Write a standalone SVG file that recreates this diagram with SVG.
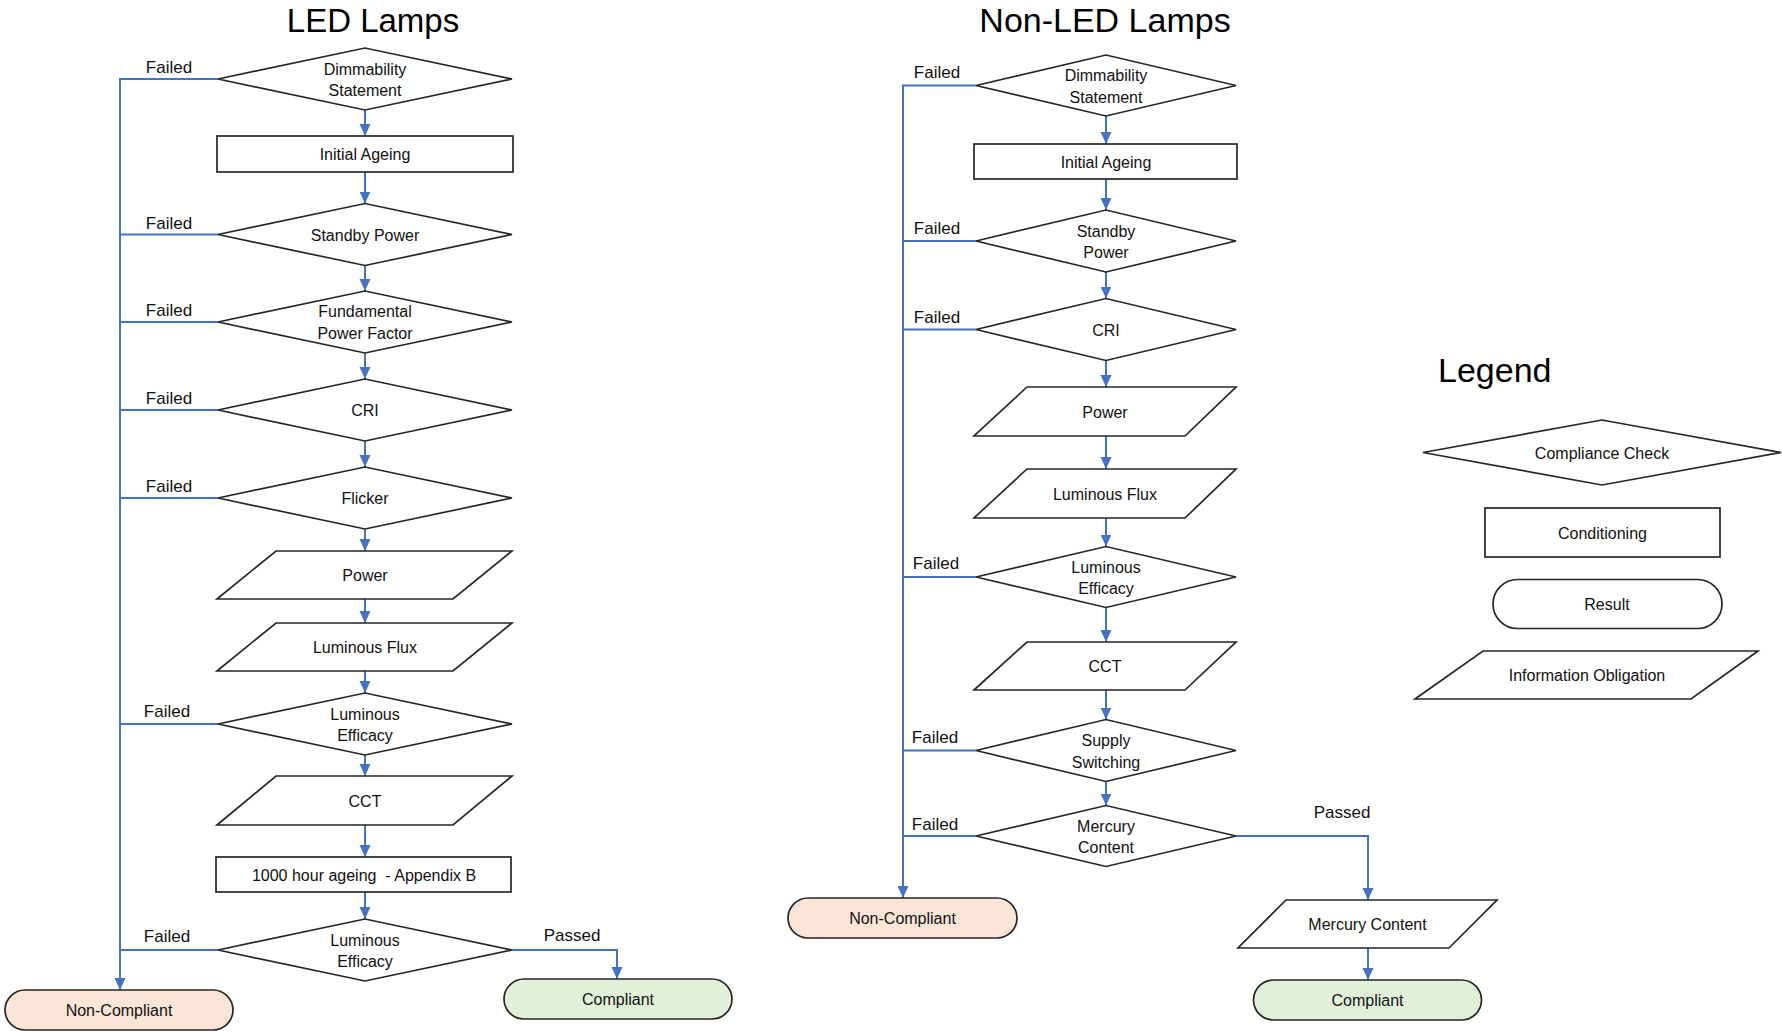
<svg xmlns="http://www.w3.org/2000/svg" width="1782" height="1032" viewBox="0 0 1782 1032">
<style>
.s{fill:#fff;stroke:#262626;stroke-width:1.7}
.nc{fill:#fbe5d6;stroke:#262626;stroke-width:1.7}
.ok{fill:#e2f0d9;stroke:#262626;stroke-width:1.7}
.c{fill:none;stroke:#4472c4;stroke-width:2}
text{font-family:"Liberation Sans",Arial,sans-serif;fill:#111;text-anchor:middle}
.t{font-size:16px}
.l{font-size:17px}
.h{font-size:33px;fill:#000}
</style>
<defs>
<marker id="a" markerUnits="userSpaceOnUse" markerWidth="12" markerHeight="12" refX="12" refY="6" orient="auto">
<path d="M0,0.5 L12,6 L0,11.5 z" fill="#4472c4"/>
</marker>
</defs>
<text class="h" x="373" y="32">LED Lamps</text>
<text class="h" x="1105" y="32" style="font-size:34px">Non-LED Lamps</text>
<text class="h" x="1438" y="382" style="font-size:34px;text-anchor:start">Legend</text>

<g id="connectors">
<g marker-end="url(#a)" class="c">
<path d="M365,110V136"/><path d="M365,172V203.5"/><path d="M365,265.5V291"/><path d="M365,353V379"/><path d="M365,441V467"/><path d="M365,529V551"/><path d="M365,599V623"/><path d="M365,671V693"/><path d="M365,755V776"/><path d="M365,825V857"/><path d="M365,892V919"/>
<path d="M218,79H120V990"/>
<path d="M512,950H617V979"/>
<path d="M1106,116V144"/><path d="M1106,179V210"/><path d="M1106,272V298.5"/><path d="M1106,360.5V387"/><path d="M1106,436V469"/><path d="M1106,518V546.5"/><path d="M1106,607.5V642"/><path d="M1106,690V719.5"/><path d="M1106,781.5V805.5"/>
<path d="M976,85.5H903V898"/>
<path d="M1236,836H1368V900"/>
<path d="M1368,948V980"/>
</g>
<g class="c">
<path d="M218,234.5H120M218,322H120M218,410H120M218,498H120M218,724H120M218,950H120"/>
<path d="M976,241H903M976,329.5H903M976,577H903M976,750.5H903M976,836H903"/>
</g>
<g class="l">
<text x="169" y="73">Failed</text><text x="169" y="228.5">Failed</text><text x="169" y="316">Failed</text><text x="169" y="404">Failed</text><text x="169" y="492">Failed</text><text x="167" y="717">Failed</text><text x="167" y="942">Failed</text>
<text x="572" y="941">Passed</text>
<text x="937" y="78">Failed</text><text x="937" y="234">Failed</text><text x="937" y="323">Failed</text><text x="936" y="569">Failed</text><text x="935" y="743">Failed</text><text x="935" y="830">Failed</text>
<text x="1342" y="818">Passed</text>
</g>
</g>

<g id="led-dimmability"><polygon class="s" points="218,79 365,48 512,79 365,110"/><text class="t" x="365" y="74.5">Dimmability</text><text class="t" x="365" y="95.5">Statement</text></g>
<g id="led-initial-ageing"><rect class="s" x="217" y="136" width="296" height="36"/><text class="t" x="365" y="160">Initial Ageing</text></g>
<g id="led-standby"><polygon class="s" points="218,234.5 365,203.5 512,234.5 365,265.5"/><text class="t" x="365" y="240.5">Standby Power</text></g>
<g id="led-fpf"><polygon class="s" points="218,322 365,291 512,322 365,353"/><text class="t" x="365" y="317">Fundamental</text><text class="t" x="365" y="338.5">Power Factor</text></g>
<g id="led-cri"><polygon class="s" points="218,410 365,379 512,410 365,441"/><text class="t" x="365" y="416">CRI</text></g>
<g id="led-flicker"><polygon class="s" points="218,498 365,467 512,498 365,529"/><text class="t" x="365" y="504">Flicker</text></g>
<g id="led-power"><polygon class="s" points="276,551 512,551 453,599 217,599"/><text class="t" x="365" y="581">Power</text></g>
<g id="led-flux"><polygon class="s" points="276,623 512,623 453,671 217,671"/><text class="t" x="365" y="653">Luminous Flux</text></g>
<g id="led-efficacy1"><polygon class="s" points="218,724 365,693 512,724 365,755"/><text class="t" x="365" y="719.5">Luminous</text><text class="t" x="365" y="741">Efficacy</text></g>
<g id="led-cct"><polygon class="s" points="276,776 512,776 453,825 217,825"/><text class="t" x="365" y="806.5">CCT</text></g>
<g id="led-1000h"><rect class="s" x="216" y="857" width="295" height="35"/><text class="t" x="364" y="880.5">1000 hour ageing&#160; - Appendix B</text></g>
<g id="led-efficacy2"><polygon class="s" points="218,950 365,919 512,950 365,981"/><text class="t" x="365" y="945.5">Luminous</text><text class="t" x="365" y="967">Efficacy</text></g>
<g id="led-noncompliant"><rect class="nc" x="5" y="990" width="228" height="40" rx="20"/><text class="t" x="119" y="1016">Non-Compliant</text></g>
<g id="led-compliant"><rect class="ok" x="504" y="979" width="228" height="40" rx="20"/><text class="t" x="618" y="1005">Compliant</text></g>

<g id="nled-dimmability"><polygon class="s" points="976,85.5 1106,55 1236,85.5 1106,116"/><text class="t" x="1106" y="81">Dimmability</text><text class="t" x="1106" y="102.5">Statement</text></g>
<g id="nled-initial-ageing"><rect class="s" x="974" y="144" width="263" height="35"/><text class="t" x="1106" y="167.5">Initial Ageing</text></g>
<g id="nled-standby"><polygon class="s" points="976,241 1106,210 1236,241 1106,272"/><text class="t" x="1106" y="236.5">Standby</text><text class="t" x="1106" y="257.5">Power</text></g>
<g id="nled-cri"><polygon class="s" points="976,329.5 1106,298.5 1236,329.5 1106,360.5"/><text class="t" x="1106" y="335.5">CRI</text></g>
<g id="nled-power"><polygon class="s" points="1027,387 1236,387 1185,436 974,436"/><text class="t" x="1105" y="417.5">Power</text></g>
<g id="nled-flux"><polygon class="s" points="1027,469 1236,469 1185,518 974,518"/><text class="t" x="1105" y="499.5">Luminous Flux</text></g>
<g id="nled-efficacy"><polygon class="s" points="976,577 1106,546.5 1236,577 1106,607.5"/><text class="t" x="1106" y="572.5">Luminous</text><text class="t" x="1106" y="594">Efficacy</text></g>
<g id="nled-cct"><polygon class="s" points="1027,642 1236,642 1185,690 974,690"/><text class="t" x="1105" y="672">CCT</text></g>
<g id="nled-supply"><polygon class="s" points="976,750.5 1106,719.5 1236,750.5 1106,781.5"/><text class="t" x="1106" y="746">Supply</text><text class="t" x="1106" y="767.5">Switching</text></g>
<g id="nled-mercury-check"><polygon class="s" points="976,836 1106,805.5 1236,836 1106,866.5"/><text class="t" x="1106" y="831.5">Mercury</text><text class="t" x="1106" y="853">Content</text></g>
<g id="nled-noncompliant"><rect class="nc" x="788" y="898" width="229" height="40" rx="20"/><text class="t" x="902.5" y="924">Non-Compliant</text></g>
<g id="nled-mercury-info"><polygon class="s" points="1286,900 1497,900 1449,948 1238,948"/><text class="t" x="1367.5" y="930">Mercury Content</text></g>
<g id="nled-compliant"><rect class="ok" x="1253.5" y="980" width="228" height="40" rx="20"/><text class="t" x="1367.5" y="1006">Compliant</text></g>

<g id="legend-check"><polygon class="s" points="1423,452.5 1602,420 1781,452.5 1602,485"/><text class="t" x="1602" y="458.5">Compliance Check</text></g>
<g id="legend-conditioning"><rect class="s" x="1485" y="508" width="235" height="49"/><text class="t" x="1602.5" y="538.5">Conditioning</text></g>
<g id="legend-result"><rect class="s" x="1493" y="579.5" width="229" height="49" rx="24.5"/><text class="t" x="1607" y="610">Result</text></g>
<g id="legend-info"><polygon class="s" points="1483,651 1758,651 1691,699 1415,699"/><text class="t" x="1587" y="681">Information Obligation</text></g>
</svg>
